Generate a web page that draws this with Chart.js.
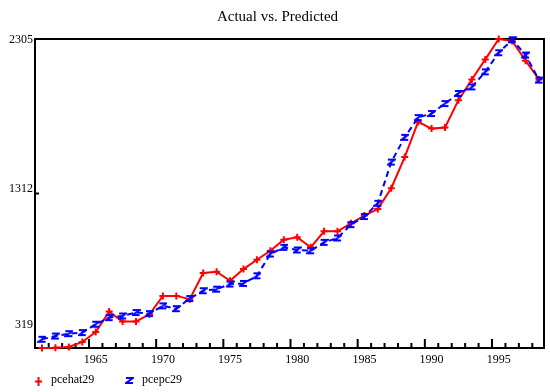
<!DOCTYPE html>
<html>
<head>
<meta charset="utf-8">
<title>Actual vs. Predicted</title>
<script src="https://cdn.jsdelivr.net/npm/chart.js@4"></script>
<style>
  html, body { margin: 0; padding: 0; background: #fff; }
  canvas { display: block; }
</style>
</head>
<body>
<canvas id="chart" width="550" height="392"></canvas>
<script>
// data
const years = [1961, 1962, 1963, 1964, 1965, 1966, 1967, 1968, 1969, 1970,
  1971, 1972, 1973, 1974, 1975, 1976, 1977, 1978, 1979, 1980,
  1981, 1982, 1983, 1984, 1985, 1986, 1987, 1988, 1989, 1990,
  1991, 1992, 1993, 1994, 1995, 1996, 1997, 1998];
const pcehat29 = [319, 320, 326, 358, 422, 553, 489, 489, 536, 654,
  654, 633, 801, 809, 751, 826, 886, 944, 1015, 1031,
  966, 1069, 1069, 1120, 1170, 1213, 1346, 1546, 1772, 1729,
  1736, 1912, 2045, 2174, 2305, 2292, 2165, 2045];
const pcepc29 = [375, 396, 411, 418, 472, 514, 525, 547, 540, 590,
  572, 637, 687, 697, 730, 734, 783, 923, 966, 949,
  944, 998, 1026, 1112, 1164, 1249, 1514, 1673, 1800, 1826,
  1890, 1955, 1997, 2094, 2217, 2300, 2202, 2041];
const yTicks = [319, 1312, 2305];
const xLabelYears = [1965, 1970, 1975, 1980, 1985, 1990, 1995];

const FONT = 'Liberation Serif';
const RED = '#ff0000';
const BLUE = '#0000ff';

// little "z" marker used for the predicted series
const zMark = document.createElement('canvas');
zMark.width = 9;
zMark.height = 9;
(function () {
  const c = zMark.getContext('2d');
  c.strokeStyle = BLUE;
  c.lineWidth = 2;
  c.beginPath();
  c.moveTo(1, 2); c.lineTo(8, 2); c.lineTo(1, 7); c.lineTo(8, 7);
  c.stroke();
})();

// frame, inward tick marks and y labels
const framePlugin = {
  id: 'frame',
  beforeDatasetsDraw(chart) {
    const { ctx, chartArea: a, scales: { x, y } } = chart;
    const labelShift = [-23, -4.5, 0.5];
    ctx.save();
    ctx.strokeStyle = '#000';
    ctx.lineWidth = 2;
    ctx.strokeRect(a.left, a.top, a.right - a.left, a.bottom - a.top);

    ctx.beginPath();
    years.slice(0, -1).forEach(yr => {
      const px = x.getPixelForValue(yr + 0.5);
      const len = (yr + 1) % 5 === 0 ? 9 : 5;
      ctx.moveTo(px, a.bottom);
      ctx.lineTo(px, a.bottom - len);
    });
    yTicks.forEach(v => {
      const py = y.getPixelForValue(v);
      ctx.moveTo(a.left, py);
      ctx.lineTo(a.left + 4, py);
    });
    ctx.stroke();

    ctx.font = '12px "' + FONT + '"';
    ctx.fillStyle = '#000';
    ctx.textAlign = 'right';
    ctx.textBaseline = 'middle';
    yTicks.forEach((v, i) => {
      ctx.fillText(String(v), a.left - 2, y.getPixelForValue(v) + labelShift[i]);
    });
    ctx.restore();
  }
};

// legend row under the axis
const legendPlugin = {
  id: 'legendRow',
  afterDraw(chart) {
    const ctx = chart.ctx;
    const sets = chart.data.datasets;
    ctx.save();
    ctx.strokeStyle = RED;
    ctx.lineWidth = 2;
    ctx.beginPath();
    ctx.moveTo(38.5, 377); ctx.lineTo(38.5, 386);
    ctx.moveTo(35, 381.5); ctx.lineTo(42, 381.5);
    ctx.stroke();
    ctx.drawImage(zMark, 125, 376);

    ctx.font = '12px "' + FONT + '"';
    ctx.fillStyle = '#000';
    ctx.textAlign = 'left';
    ctx.textBaseline = 'middle';
    ctx.fillText(sets[1].label, 51, 380);
    ctx.fillText(sets[0].label, 142, 380);
    ctx.restore();
  }
};

new Chart(document.getElementById('chart'), {
  type: 'line',
  data: {
    datasets: [
      {
        label: 'pcepc29',
        data: years.map((yr, i) => ({ x: yr, y: pcepc29[i] })),
        borderColor: BLUE,
        borderWidth: 2,
        borderDash: [6, 4],
        pointStyle: zMark,
        pointRadius: 4,
        tension: 0,
        clip: false,
        order: 0
      },
      {
        label: 'pcehat29',
        data: years.map((yr, i) => ({ x: yr, y: pcehat29[i] })),
        borderColor: RED,
        backgroundColor: RED,
        borderWidth: 2,
        pointStyle: 'cross',
        pointRadius: 3.5,
        pointBorderWidth: 2,
        pointBorderColor: RED,
        tension: 0,
        clip: false,
        order: 1
      }
    ]
  },
  options: {
    responsive: false,
    animation: false,
    devicePixelRatio: 1,
    layout: { padding: { left: 5, right: 0, top: 0, bottom: 0 } },
    plugins: {
      legend: { display: false },
      tooltip: { enabled: false },
      title: {
        display: true,
        text: 'Actual vs. Predicted',
        color: '#000',
        font: { family: FONT, size: 15, weight: 'normal' },
        padding: { top: 8, bottom: 13 }
      }
    },
    scales: {
      x: {
        type: 'linear',
        min: 1960.48,
        max: 1998.37,
        afterBuildTicks: s => { s.ticks = xLabelYears.map(v => ({ value: v })); },
        afterFit: s => { s.height = 392 - 348; },
        grid: { display: false, drawTicks: false },
        border: { display: false },
        ticks: {
          color: '#000',
          font: { family: FONT, size: 12 },
          padding: 5,
          maxRotation: 0,
          autoSkip: false,
          callback: v => String(v)
        }
      },
      y: {
        min: 319,
        max: 2305,
        afterBuildTicks: s => { s.ticks = yTicks.map(v => ({ value: v })); },
        afterFit: s => { s.width = 30; },
        ticks: { display: false },
        grid: { display: false, drawTicks: false },
        border: { display: false }
      },
      // empty strip on the right so the plot ends where the reference does
      yRight: {
        position: 'right',
        afterFit: s => { s.width = 6; },
        ticks: { display: false },
        grid: { display: false, drawTicks: false },
        border: { display: false }
      }
    }
  },
  plugins: [framePlugin, legendPlugin]
});
</script>
</body>
</html>
